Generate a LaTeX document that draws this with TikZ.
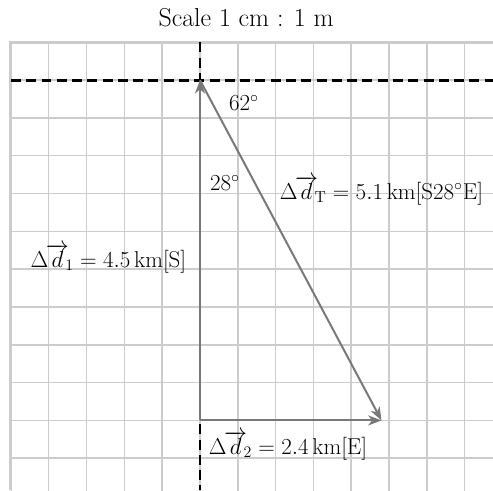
\documentclass[tikz,border=0pt]{standalone}
\usetikzlibrary{arrows.meta}
\definecolor{gridgray}{RGB}{204,204,204}
\definecolor{vecgray}{RGB}{120,120,120}
\newcommand{\dvec}[1]{\Delta\mkern-2mu\overrightarrow{d}_{\mkern-4mu#1}}
\begin{document}
\begin{tikzpicture}[
  gridline/.style={gridgray, line width=1.1pt},
  gridborder/.style={gridgray, line width=2.2pt},
  axisdash/.style={black, line width=2.2pt, dash pattern=on 7.5pt off 4pt},
  vec/.style={vecgray, line width=1.5pt, -{Stealth[length=10pt,width=7.5pt,inset=3pt]}},
  lbl/.style={font=\fontsize{17.28}{20}\selectfont, inner sep=1pt},
  ttl/.style={font=\fontsize{19.5}{23}\selectfont, inner sep=1pt}
]
\useasboundingbox (-5.29,-10.85) rectangle (7.75,2.12);
% grid
\begin{scope}
  \clip (-5,-10.85) rectangle (7.75,1);
  \draw[gridline] (-5,-11) grid (8,1);
\end{scope}
\draw[gridborder] (-5,-10.85) -- (-5,1) -- (7.75,1);
% named points
\coordinate (O) at (0,0);
\coordinate (A) at (0,-9);
\coordinate (B) at (4.8,-9);
\coordinate (L) at (-5,0);
\coordinate (R) at (7.75,0);
\coordinate (T) at (0,1);
\coordinate (D) at (0,-10.85);
% dashed axes
\draw[axisdash] (L) -- (R);
\draw[axisdash] (T) -- (D);
% vectors
\draw[vec] (A) -- (O);
\draw[vec] (A) -- (B);
\draw[vec] (O) -- (B);
% labels
\node[ttl] (title) at (1.22,1.64) {Scale 1 cm : 1 m};
\node[lbl] (a62) at (1.16,-0.6) {$62^{\circ}$};
\node[lbl] (a28) at (0.66,-2.72) {$28^{\circ}$};
\node[lbl] (dT) at (4.8,-2.92) {$\dvec{\mathrm{T}} = 5.1\,\mathrm{km[S28^{\circ}E]}$};
\node[lbl] (d1) at (-2.42,-4.72) {$\dvec{1} = 4.5\,\mathrm{km[S]}$};
\node[lbl] (d2) at (2.33,-9.66) {$\dvec{2} = 2.4\,\mathrm{km[E]}$};
\end{tikzpicture}
\end{document}
